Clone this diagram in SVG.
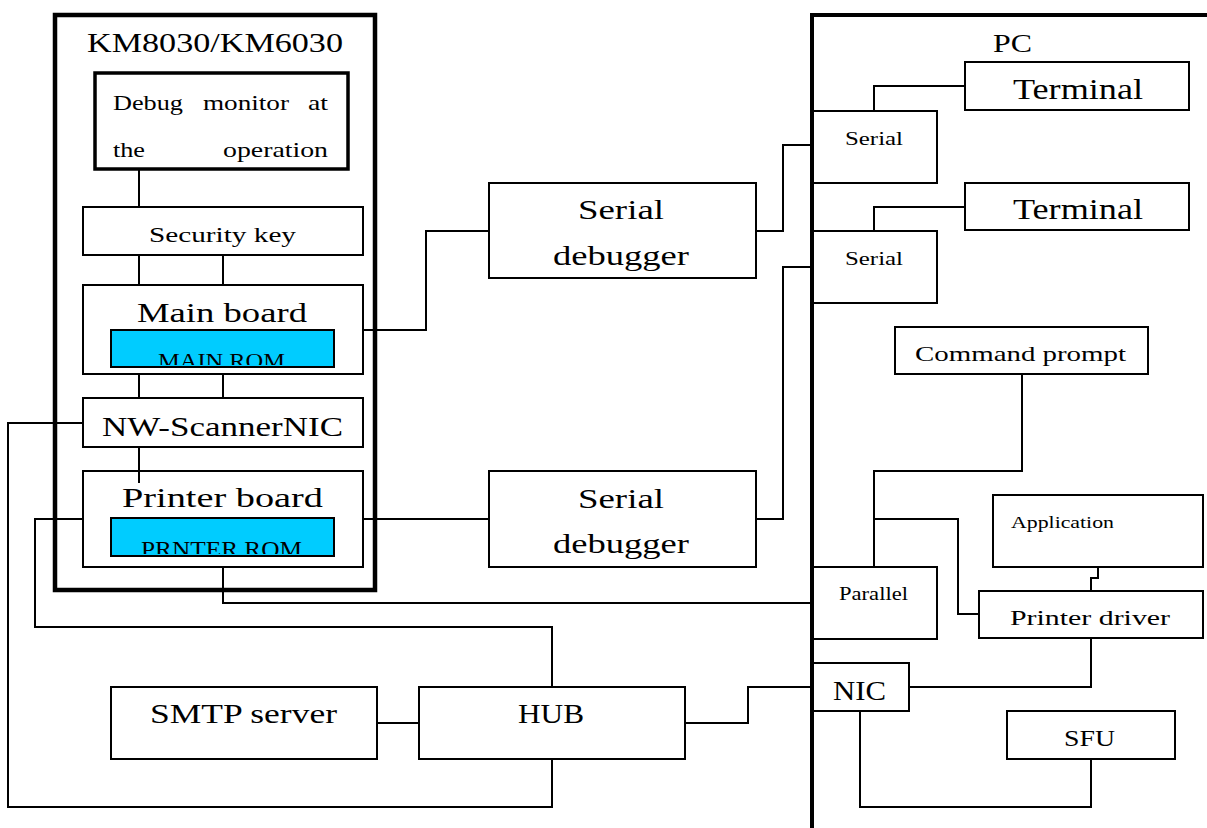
<svg xmlns="http://www.w3.org/2000/svg" width="1207" height="828" viewBox="0 0 1207 828">
<style>
.b{fill:#fff;stroke:#000;stroke-width:2}
.rom{fill:#00CCFF;stroke:#000;stroke-width:2}
.c{fill:none;stroke:#000;stroke-width:2}
.t{font-family:"Liberation Serif","DejaVu Serif",serif;fill:#000}
</style>
<defs>
<clipPath id="clipMain"><rect x="112" y="331" width="221" height="34"/></clipPath>
<clipPath id="clipPrn"><rect x="112" y="519" width="221" height="35"/></clipPath>
</defs>
<rect width="1207" height="828" fill="#fff"/>
<g id="km">
<rect x="55" y="15" width="320" height="575" fill="none" stroke="#000" stroke-width="4.5"/>
<text class="t" x="87" y="52" font-size="27" textLength="256" lengthAdjust="spacingAndGlyphs">KM8030/KM6030</text>
</g>
<g id="pc">
<path d="M812,828 V15 H1207" fill="none" stroke="#000" stroke-width="4"/>
<text class="t" x="993" y="52" font-size="26" textLength="39" lengthAdjust="spacingAndGlyphs">PC</text>
</g>
<g id="connectors">
<path class="c" d="M139,169 V207"/>
<path class="c" d="M139,255 V285 M223,255 V285"/>
<path class="c" d="M139,374 V398 M223,374 V398"/>
<path class="c" d="M139,447 V483"/>
<path class="c" d="M363,330 H426 V231 H489"/>
<path class="c" d="M363,519 H489"/>
<path class="c" d="M756,231 H783 V145 H812"/>
<path class="c" d="M756,519 H783 V267 H812"/>
<path class="c" d="M965,86 H874 V111"/>
<path class="c" d="M965,207 H874 V231"/>
<path class="c" d="M1022,374 V471 H874 V567"/>
<path class="c" d="M874,519 H958 V614 H979"/>
<path class="c" d="M1098,567 V578 H1091 V591"/>
<path class="c" d="M1091,638 V687 H910"/>
<path class="c" d="M223,567 V603 H812"/>
<path class="c" d="M83,519 H35 V627 H552 V687"/>
<path class="c" d="M83,423 H8 V807 H552 V759"/>
<path class="c" d="M377,723 H419"/>
<path class="c" d="M685,723 H748 V687 H812"/>
<path class="c" d="M860,711 V807 H1091 V759"/>
</g>
<g id="debug">
<rect x="95" y="73" width="253" height="96" fill="#fff" stroke="#000" stroke-width="3.5"/>
<text class="t" x="113" y="110" font-size="22" textLength="70" lengthAdjust="spacingAndGlyphs">Debug</text>
<text class="t" x="203" y="110" font-size="22" textLength="86" lengthAdjust="spacingAndGlyphs">monitor</text>
<text class="t" x="308" y="110" font-size="22" textLength="20" lengthAdjust="spacingAndGlyphs">at</text>
<text class="t" x="113" y="157" font-size="22" textLength="32" lengthAdjust="spacingAndGlyphs">the</text>
<text class="t" x="223" y="157" font-size="22" textLength="105" lengthAdjust="spacingAndGlyphs">operation</text>
</g>
<g id="security">
<rect class="b" x="83" y="207" width="280" height="48"/>
<text class="t" x="149" y="242" font-size="21" textLength="147" lengthAdjust="spacingAndGlyphs">Security key</text>
</g>
<g id="mainboard">
<rect class="b" x="83" y="285" width="280" height="89"/>
<text class="t" x="137" y="322" font-size="27" textLength="170" lengthAdjust="spacingAndGlyphs">Main board</text>
<rect class="rom" x="111" y="330" width="223" height="37"/>
<text class="t" x="158" y="368" font-size="22" textLength="127" lengthAdjust="spacingAndGlyphs" clip-path="url(#clipMain)">MAIN ROM</text>
</g>
<g id="nwscanner">
<rect class="b" x="83" y="398" width="280" height="49"/>
<text class="t" x="102" y="436" font-size="27" textLength="241" lengthAdjust="spacingAndGlyphs">NW-ScannerNIC</text>
</g>
<g id="printerboard">
<rect class="b" x="83" y="471" width="280" height="96"/>
<path class="c" d="M139,471 V483"/>
<text class="t" x="122" y="507" font-size="27" textLength="201" lengthAdjust="spacingAndGlyphs">Printer board</text>
<rect class="rom" x="111" y="518" width="223" height="38"/>
<text class="t" x="141" y="557" font-size="24" textLength="161" lengthAdjust="spacingAndGlyphs" clip-path="url(#clipPrn)">PRNTER ROM</text>
</g>
<g id="debugger1">
<rect class="b" x="489" y="183" width="267" height="95"/>
<text class="t" x="578" y="219" font-size="28" textLength="86" lengthAdjust="spacingAndGlyphs">Serial</text>
<text class="t" x="553" y="265" font-size="28" textLength="136" lengthAdjust="spacingAndGlyphs">debugger</text>
</g>
<g id="debugger2">
<rect class="b" x="489" y="471" width="267" height="96"/>
<text class="t" x="578" y="508" font-size="28" textLength="86" lengthAdjust="spacingAndGlyphs">Serial</text>
<text class="t" x="553" y="553" font-size="28" textLength="136" lengthAdjust="spacingAndGlyphs">debugger</text>
</g>
<g id="terminal1">
<rect class="b" x="965" y="62" width="224" height="48"/>
<text class="t" x="1013" y="99" font-size="29" textLength="130" lengthAdjust="spacingAndGlyphs">Terminal</text>
</g>
<g id="terminal2">
<rect class="b" x="965" y="183" width="224" height="47"/>
<text class="t" x="1013" y="219" font-size="29" textLength="130" lengthAdjust="spacingAndGlyphs">Terminal</text>
</g>
<g id="serial1">
<rect class="b" x="812" y="111" width="125" height="72"/>
<text class="t" x="845" y="145" font-size="19" textLength="58" lengthAdjust="spacingAndGlyphs">Serial</text>
</g>
<g id="serial2">
<rect class="b" x="812" y="231" width="125" height="72"/>
<text class="t" x="845" y="265" font-size="19" textLength="58" lengthAdjust="spacingAndGlyphs">Serial</text>
</g>
<g id="cmdprompt">
<rect class="b" x="895" y="327" width="253" height="47"/>
<text class="t" x="915" y="361" font-size="22" textLength="211" lengthAdjust="spacingAndGlyphs">Command prompt</text>
</g>
<g id="application">
<rect class="b" x="993" y="495" width="210" height="72"/>
<text class="t" x="1011" y="528" font-size="17" textLength="103" lengthAdjust="spacingAndGlyphs">Application</text>
</g>
<g id="printerdriver">
<rect class="b" x="979" y="591" width="224" height="47"/>
<text class="t" x="1010" y="625" font-size="22" textLength="160" lengthAdjust="spacingAndGlyphs">Printer driver</text>
</g>
<g id="parallel">
<rect class="b" x="812" y="567" width="125" height="72"/>
<text class="t" x="839" y="600" font-size="18" textLength="69" lengthAdjust="spacingAndGlyphs">Parallel</text>
</g>
<g id="nic">
<rect class="b" x="812" y="663" width="97" height="48"/>
<text class="t" x="833" y="700" font-size="27" textLength="53" lengthAdjust="spacingAndGlyphs">NIC</text>
</g>
<g id="sfu">
<rect class="b" x="1007" y="711" width="168" height="48"/>
<text class="t" x="1064" y="746" font-size="24" textLength="51" lengthAdjust="spacingAndGlyphs">SFU</text>
</g>
<g id="smtp">
<rect class="b" x="111" y="687" width="266" height="72"/>
<text class="t" x="150" y="723" font-size="28" textLength="187" lengthAdjust="spacingAndGlyphs">SMTP server</text>
</g>
<g id="hub">
<rect class="b" x="419" y="687" width="266" height="72"/>
<text class="t" x="518" y="723" font-size="28" textLength="66" lengthAdjust="spacingAndGlyphs">HUB</text>
</g>
<path d="M812,828 V15 H1207" fill="none" stroke="#000" stroke-width="4"/>
</svg>
